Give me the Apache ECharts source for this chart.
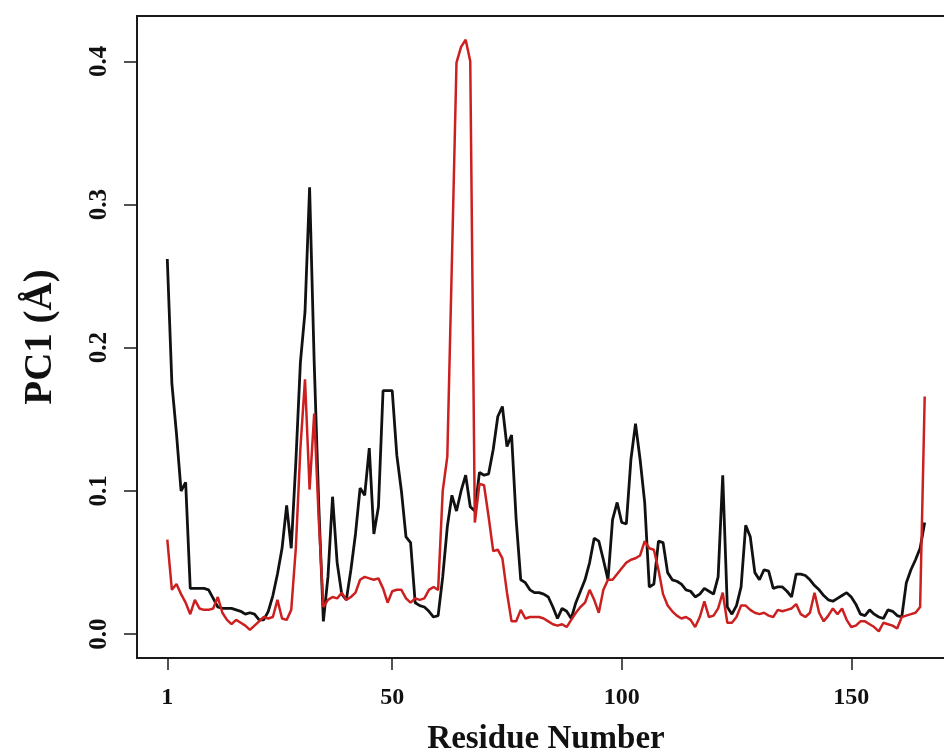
<!DOCTYPE html>
<html>
<head>
<meta charset="utf-8">
<script src="https://cdn.jsdelivr.net/npm/echarts@6/dist/echarts.min.js"></script>
<style>
html,body{margin:0;padding:0;background:#fff;}
#chart{width:944px;height:753px;}
</style>
</head>
<body>
<div id="chart"></div>
<script>
// PC1 per residue, black trace
const blackValues = [
0.262,0.175,0.140,0.100,0.106,0.032,0.032,0.032,0.032,0.031,
0.025,0.019,0.018,0.018,0.018,0.017,0.016,0.014,0.015,0.014,
0.010,0.010,0.016,0.027,0.042,0.060,0.090,0.060,0.120,0.190,
0.225,0.312,0.190,0.090,0.009,0.040,0.096,0.050,0.028,0.024,
0.045,0.070,0.102,0.097,0.130,0.070,0.089,0.170,0.170,0.170,
0.125,0.100,0.068,0.064,0.022,0.020,0.019,0.016,0.012,0.013,
0.040,0.075,0.097,0.086,0.100,0.111,0.089,0.086,0.113,0.111,
0.112,0.129,0.152,0.159,0.131,0.139,0.080,0.038,0.036,0.031,
0.029,0.029,0.028,0.026,0.019,0.011,0.018,0.016,0.011,0.022,
0.030,0.038,0.050,0.067,0.065,0.052,0.038,0.080,0.092,0.078,
0.077,0.122,0.147,0.122,0.092,0.033,0.035,0.065,0.064,0.043,
0.038,0.037,0.035,0.031,0.030,0.026,0.028,0.032,0.030,0.028,
0.040,0.111,0.019,0.014,0.020,0.033,0.076,0.068,0.043,0.038,
0.045,0.044,0.032,0.033,0.033,0.030,0.026,0.042,0.042,0.041,
0.038,0.034,0.031,0.027,0.024,0.023,0.025,0.027,0.029,0.026,
0.021,0.014,0.013,0.017,0.014,0.012,0.011,0.017,0.016,0.013,
0.012,0.036,0.045,0.052,0.060,0.078
];
// PC1 per residue, red trace
const redValues = [
0.066,0.031,0.035,0.028,0.022,0.014,0.024,0.018,0.017,0.017,
0.018,0.026,0.015,0.010,0.007,0.010,0.008,0.006,0.003,0.006,
0.009,0.012,0.011,0.012,0.024,0.011,0.010,0.017,0.060,0.130,
0.178,0.101,0.154,0.080,0.019,0.024,0.026,0.025,0.029,0.024,
0.026,0.029,0.038,0.040,0.039,0.038,0.039,0.032,0.022,0.030,
0.031,0.031,0.025,0.022,0.025,0.024,0.025,0.031,0.033,0.031,
0.100,0.124,0.260,0.399,0.410,0.415,0.400,0.078,0.105,0.104,
0.082,0.058,0.059,0.053,0.029,0.009,0.009,0.017,0.011,0.012,
0.012,0.012,0.011,0.009,0.007,0.006,0.007,0.005,0.010,0.015,
0.019,0.022,0.031,0.024,0.015,0.031,0.038,0.038,0.042,0.046,
0.050,0.052,0.053,0.055,0.065,0.060,0.059,0.045,0.028,0.020,
0.016,0.013,0.011,0.012,0.010,0.005,0.012,0.023,0.012,0.013,
0.018,0.029,0.008,0.008,0.012,0.020,0.020,0.017,0.015,0.014,
0.015,0.013,0.012,0.017,0.016,0.017,0.018,0.021,0.014,0.012,
0.015,0.029,0.015,0.009,0.013,0.018,0.014,0.018,0.010,0.005,
0.006,0.009,0.009,0.007,0.005,0.002,0.008,0.007,0.006,0.004,
0.012,0.013,0.014,0.015,0.019,0.166
];
const residues = blackValues.map((_, i) => i + 1);
const xTicks = [1, 50, 100, 150];
const yTicks = [0, 0.1, 0.2, 0.3, 0.4];

const toPairs = vals => vals.map((v, i) => [residues[i], v]);
const font = "'Liberation Serif','Times New Roman',serif";

const chart = echarts.init(document.getElementById('chart'), null, {renderer: 'canvas'});
chart.setOption({
  animation: false,
  backgroundColor: '#fff',
  grid: {left: 137, top: 16, width: 818, height: 642, show: true,
         containLabel: false, outerBoundsMode: 'none',
         borderColor: '#1a1a1a', borderWidth: 2, backgroundColor: 'transparent'},
  xAxis: {
    type: 'value', min: -5.6, max: 172.6,
    name: 'Residue Number', nameLocation: 'middle', nameGap: 65,
    nameTextStyle: {fontFamily: font, fontWeight: 'bold', fontSize: 33, color: '#111'},
    axisLine: {show: true, onZero: false, lineStyle: {color: '#1a1a1a', width: 2}},
    axisTick: {show: true, length: 12, customValues: xTicks, lineStyle: {color: '#1a1a1a', width: 1.5}},
    axisLabel: {customValues: xTicks, margin: 28, fontFamily: font, fontWeight: 'bold', fontSize: 24, color: '#111'},
    splitLine: {show: false}
  },
  yAxis: {
    type: 'value', min: -0.0166, max: 0.4316,
    name: 'PC1 (Å)', nameLocation: 'middle', nameGap: 77,
    nameTextStyle: {fontFamily: font, fontWeight: 'bold', fontSize: 39, color: '#111'},
    axisLine: {show: true, onZero: false, lineStyle: {color: '#1a1a1a', width: 2}},
    axisTick: {show: true, length: 13, customValues: yTicks, lineStyle: {color: '#1a1a1a', width: 1.5}},
    axisLabel: {customValues: yTicks, rotate: 90, margin: 25, fontFamily: font, fontWeight: 'bold',
                fontSize: 25, color: '#111', formatter: v => v.toFixed(1)},
    splitLine: {show: false}
  },
  series: [
    {type: 'line', data: toPairs(blackValues), symbol: 'none', z: 3,
     lineStyle: {color: '#111', width: 2.8}},
    {type: 'line', data: toPairs(redValues), symbol: 'none', z: 4,
     lineStyle: {color: '#cc2020', width: 2.5}}
  ]
});
</script>
</body>
</html>
